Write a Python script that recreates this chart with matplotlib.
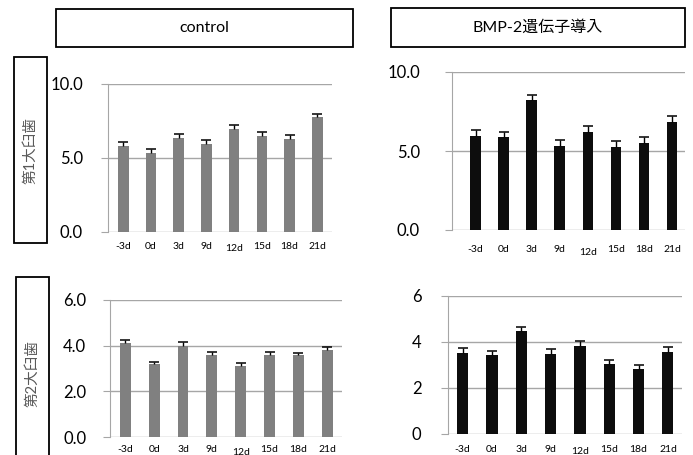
import numpy as np
import matplotlib
matplotlib.use("Agg")
import matplotlib.pyplot as plt
from matplotlib.patches import Rectangle

plt.rcParams['font.family'] = ['Lato', 'Noto Sans CJK JP', 'DejaVu Sans']

days = ['-3d', '0d', '3d', '9d', '12d', '15d', '18d', '21d']

ctrl_1 = [5.83, 5.32, 6.37, 5.95, 6.96, 6.49, 6.28, 7.75]
ctrl_1_err = [0.27, 0.27, 0.27, 0.27, 0.24, 0.25, 0.25, 0.24]
bmp_1 = [5.95, 5.87, 8.21, 5.34, 6.22, 5.25, 5.49, 6.84]
bmp_1_err = [0.36, 0.35, 0.35, 0.36, 0.36, 0.36, 0.38, 0.36]
ctrl_2 = [4.10, 3.19, 4.00, 3.61, 3.10, 3.61, 3.58, 3.80]
ctrl_2_err = [0.14, 0.11, 0.14, 0.13, 0.13, 0.13, 0.12, 0.13]
bmp_2 = [3.52, 3.42, 4.47, 3.49, 3.83, 3.03, 2.81, 3.58]
bmp_2_err = [0.21, 0.19, 0.18, 0.21, 0.20, 0.19, 0.19, 0.20]

W, H = 693, 455
fig = plt.figure(figsize=(W / 100, H / 100), dpi=100)


def px_axes(x0, x1, ytop, ybot):
    return fig.add_axes([x0 / W, (H - ybot) / H, (x1 - x0) / W, (ybot - ytop) / H])


def panel(ax, vals, errs, color, ymax, yticks, fmt, xlim, pad, label_drop):
    x = np.arange(len(days))
    vals = np.array(vals)
    tops = vals + np.array(errs)
    ax.bar(x, vals, width=0.38, color=color, zorder=3)
    # plus-only error bars, as in the original
    ax.vlines(x, vals, tops, color='black', linewidth=1, zorder=4)
    ax.plot(x, tops, linestyle='none', marker='_', markersize=6.5,
            markeredgewidth=1.1, color='black', zorder=4)
    ax.set_xlim(*xlim)
    ax.set_ylim(0, ymax)
    ax.set_yticks(yticks)
    ax.set_yticklabels([fmt.format(v) for v in yticks], fontsize=12)
    ax.grid(axis='y', color='#a6a6a6', linewidth=1, zorder=0)
    ax.set_xticks(x)
    ax.set_xticklabels(days, fontsize=7.5)
    for s in ['top', 'right', 'bottom']:
        ax.spines[s].set_visible(False)
    ax.spines['left'].set_color('#a6a6a6')
    ax.tick_params(axis='y', color='#a6a6a6', length=5, pad=pad)
    ax.tick_params(axis='x', length=0, pad=label_drop)
    ax.get_xticklabels()[4].set_y(-0.016)


ax1 = px_axes(108, 332, 84, 232)
panel(ax1, ctrl_1, ctrl_1_err, '#808080', 10, [0, 5, 10], '{:.1f}', (-0.55, 7.53), 13, 7)
ax2 = px_axes(452, 685, 72, 230)
panel(ax2, bmp_1, bmp_1_err, '#0d0d0d', 10, [0, 5, 10], '{:.1f}', (-0.84, 7.46), 18, 11)
ax3 = px_axes(110, 342, 300, 437)
panel(ax3, ctrl_2, ctrl_2_err, '#808080', 6, [0, 2, 4, 6], '{:.1f}', (-0.53, 7.51), 12, 6)
ax4 = px_axes(448, 682, 296, 434)
panel(ax4, bmp_2, bmp_2_err, '#0d0d0d', 6, [0, 2, 4, 6], '{:.0f}', (-0.5, 7.48), 14, 8)


def box(x0, x1, ytop, ybot, text, rot=0, color='black', size=11):
    fig.patches.append(Rectangle((x0 / W, (H - ybot) / H), (x1 - x0) / W, (ybot - ytop) / H,
                                 transform=fig.transFigure, fill=False,
                                 edgecolor='black', linewidth=1.3))
    fig.text((x0 + x1) / 2 / W, (H - (ytop + ybot) / 2) / H, text, rotation=rot,
             ha='center', va='center', color=color, fontsize=size)


box(56, 353, 9, 47, 'control', size=11.5)
box(391, 685, 8, 47, 'BMP-2遺伝子導入', size=11.5)
box(14, 47, 57, 243, '第1大臼歯', rot=90, color='#595959', size=10.5)
box(16, 49, 277, 470, '第2大臼歯', rot=90, color='#595959', size=10.5)

fig.savefig('out.png', dpi=100)
